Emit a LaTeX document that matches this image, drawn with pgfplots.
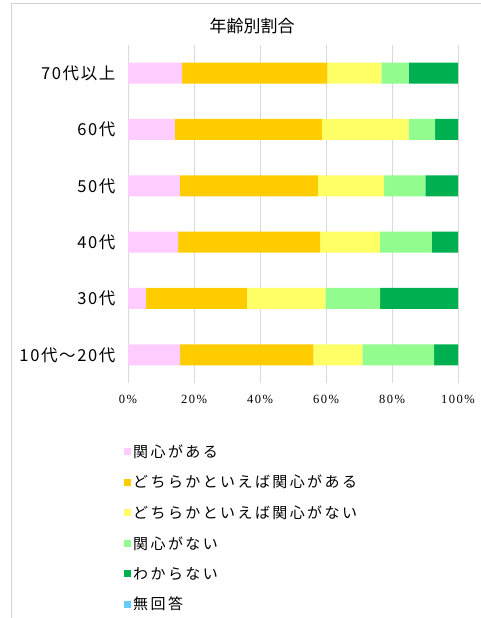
\documentclass[border=0pt]{standalone}
\usepackage{fontspec}
\setmainfont{Liberation Serif}
\newfontfamily\cjk{Noto Sans CJK JP}
\usepackage{pgfplots}
\pgfplotsset{compat=1.18}
\definecolor{cA}{HTML}{FFCCFF}
\definecolor{cB}{HTML}{FFCC00}
\definecolor{cC}{HTML}{FFFF66}
\definecolor{cD}{HTML}{92FC8F}
\definecolor{cE}{HTML}{00B050}
\definecolor{cF}{HTML}{66CCFF}
\begin{document}
\begin{tikzpicture}
\useasboundingbox (0,0) rectangle (481bp,618bp);
\draw[gray!35, line width=0.8bp] (11bp,0) -- (11bp,615bp) -- (481bp,615bp);
\begin{axis}[
  at={(128bp,235bp)}, anchor=south west,
  scale only axis, width=330bp, height=338bp,
  xbar stacked, bar width=21bp,
  xmin=0, xmax=100, ymin=-0.5, ymax=5.5,
  ytick={0,1,2,3,4,5},
  yticklabels={10代～20代,30代,40代,50代,60代,70代以上},
  yticklabel style={font=\cjk\fontsize{16.5bp}{18bp}\selectfont\addfontfeature{LetterSpace=10}, xshift=-9bp},
  xtick={0,20,40,60,80,100},
  xticklabels={0\%,20\%,40\%,60\%,80\%,100\%},
  xticklabel style={font=\fontsize{12.5bp}{14bp}\selectfont\addfontfeature{LetterSpace=12}, yshift=-9bp},
  /pgf/number format/assume math mode=true,
  major tick length=0pt,
  axis line style={draw=none},
  xmajorgrids, grid style={gray!30, line width=0.8bp},
  title={\cjk 年齢別割合},
  title style={at={(axis description cs:0.376,1.0385)}, anchor=center, font=\fontsize{17bp}{19bp}\selectfont},
  legend style={at={(axis description cs:-0.012,-0.175)}, anchor=north west, draw=none,
    font=\cjk\fontsize{15bp}{17bp}\selectfont\addfontfeature{LetterSpace=16},
    row sep=12.5bp, inner sep=0pt},
  legend cell align=left,
  legend image code/.code={\fill[#1] (0bp,-3.5bp) rectangle (7bp,3.5bp);},
]
\addplot[fill=cA, draw=none] coordinates {(15.8,0) (5.4,1) (15.2,2) (15.7,3) (14.2,4) (16.4,5)};
\addplot[fill=cB, draw=none] coordinates {(40.4,0) (30.6,1) (43.0,2) (41.8,3) (44.6,4) (44.0,5)};
\addplot[fill=cC, draw=none] coordinates {(14.8,0) (23.8,1) (18.1,2) (20.1,3) (26.2,4) (16.4,5)};
\addplot[fill=cD, draw=none] coordinates {(21.8,0) (16.6,1) (15.8,2) (12.5,3) (8.1,4) (8.2,5)};
\addplot[fill=cE, draw=none] coordinates {(7.2,0) (23.6,1) (7.9,2) (9.9,3) (6.9,4) (15.0,5)};
\addplot[fill=cF, draw=none] coordinates {(0,0) (0,1) (0,2) (0,3) (0,4) (0,5)};
\legend{関心がある,どちらかといえば関心がある,どちらかといえば関心がない,関心がない,わからない,無回答}
\end{axis}
\end{tikzpicture}
\end{document}
